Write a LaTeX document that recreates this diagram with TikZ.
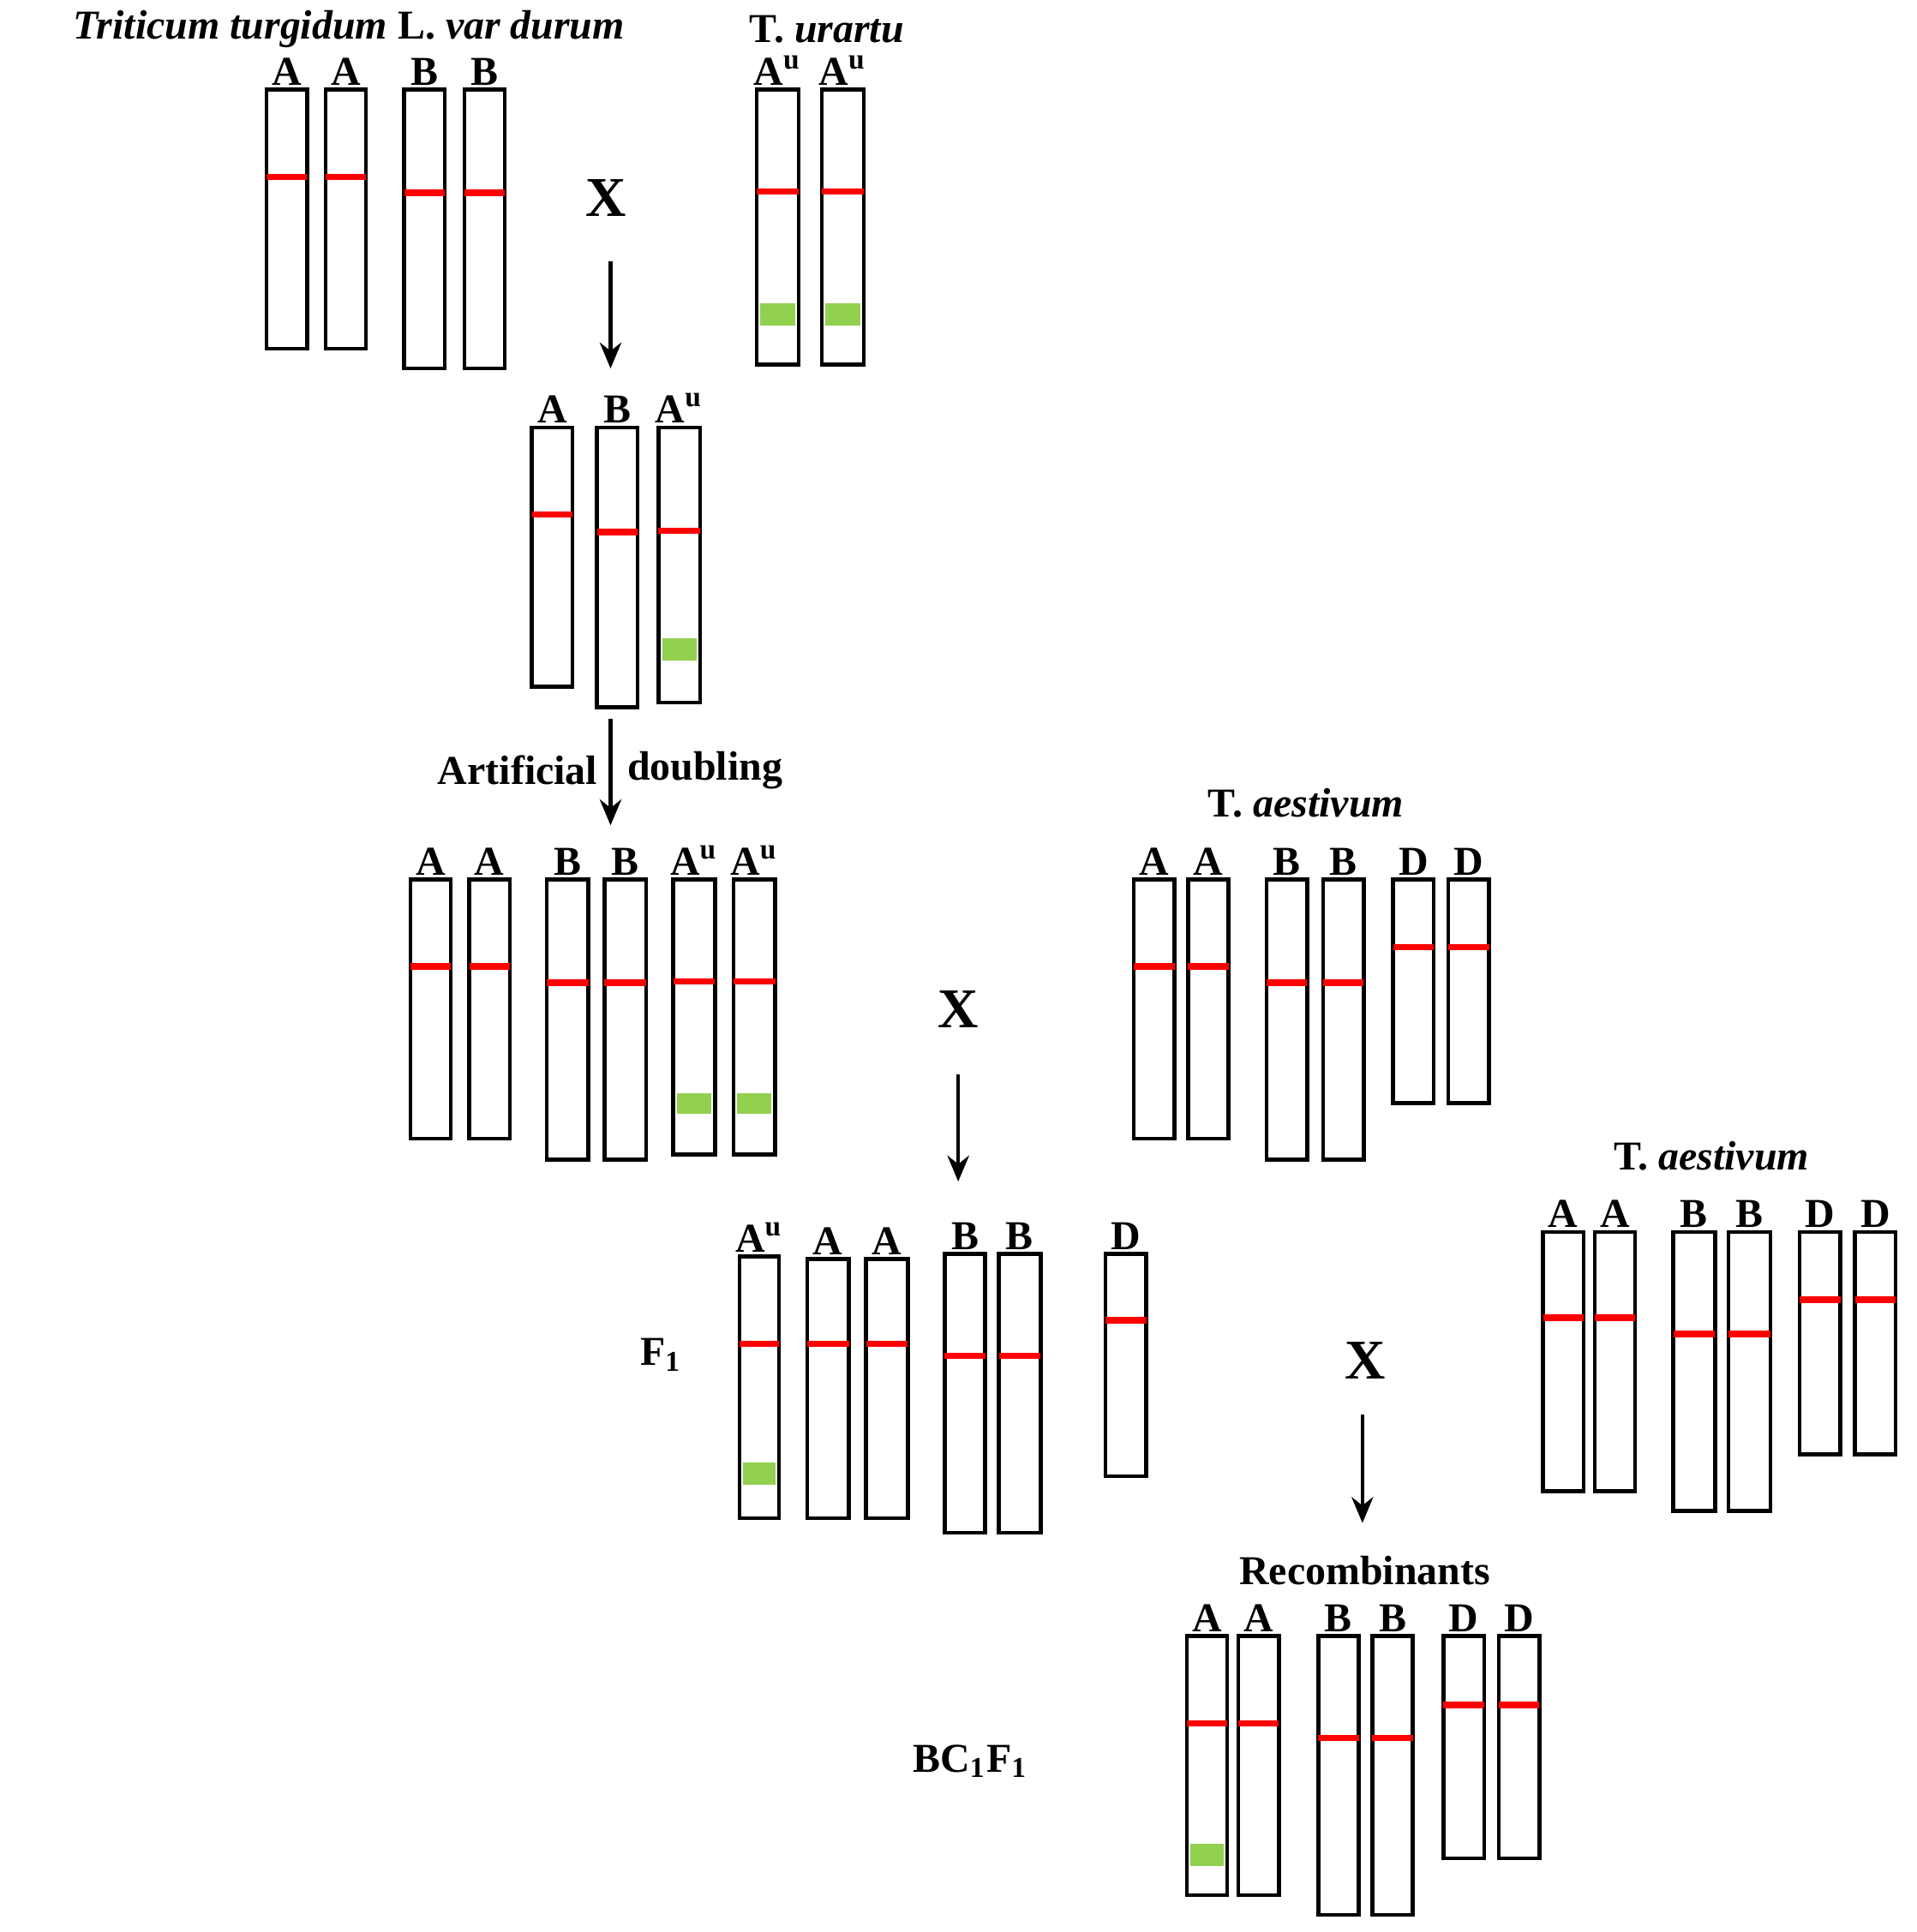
\documentclass[tikz,border=0pt]{standalone}
\usepackage{fontspec}
\setmainfont{Liberation Serif}
\usetikzlibrary{arrows.meta}
\definecolor{gband}{RGB}{146,208,80}
\tikzset{chrl/.style={draw=black,line width=0.9pt,fill=white},
 rband/.style={draw=red,line width=1.5pt},
 lbl/.style={font=\bfseries\fontsize{9.5}{10}\selectfont,inner sep=0.5pt,anchor=south},
 ttl/.style={font=\bfseries\fontsize{9.5}{10}\selectfont,inner sep=0pt},
 cross/.style={font=\bfseries\fontsize{13}{14}\selectfont,inner sep=0pt},
 arr/.style={line width=0.9pt,-{Stealth[length=6pt,width=5pt]}}}
\newcommand\chrom[7]{%
 \draw[chrl] (#2,#4) rectangle (#3,#5);
 \draw[rband] (#2,#6) -- (#3,#6);
 \node[lbl] (#1) at ({(#2+#3)/2},#4-1) {#7};}
\newcommand\grn[4]{\fill[gband] (#1+3,#3) rectangle (#2-3,#4);}
\newcommand\Au{A\textsuperscript{u}}
\begin{document}
\begin{tikzpicture}[x=0.01cm,y=-0.01cm]
\useasboundingbox (0,0) rectangle (1560,1573);
% titles
\node[ttl] (t1) at (284,24) {\textit{Triticum turgidum} L. \textit{var durum}};
\node[ttl] (t2) at (673,24) {T. \textit{urartu}};
% group 1
\chrom{g1a}{217}{250}{73}{284}{144}{A}
\chrom{g1b}{265}{298}{73}{284}{144}{A}
\chrom{g1c}{329}{362}{73}{300}{157}{B}
\chrom{g1d}{378}{411}{73}{300}{157}{B}
\grn{616}{650}{247}{265}\grn{669}{703}{247}{265}
\chrom{u1}{616}{650}{73}{297}{156}{\Au}
\chrom{u2}{669}{703}{73}{297}{156}{\Au}
\grn{616}{650}{247}{265}\grn{669}{703}{247}{265}
\node[cross] (x1) at (493,161) {X};
\coordinate (a1s) at (497,213); \coordinate (a1e) at (497,300);
\draw[arr] (a1s) -- (a1e);
% group 2
\chrom{g2a}{433}{466}{348}{559}{419}{A}
\chrom{g2b}{486}{519}{348}{576}{433}{B}
\chrom{g2c}{536}{570}{348}{572}{432}{\Au}
\grn{536}{570}{520}{538}
\coordinate (a2s) at (497,585); \coordinate (a2e) at (497,672);
\draw[arr] (a2s) -- (a2e);
\node[ttl,anchor=east] (ad1) at (487,627) {Artificial};
\node[ttl,anchor=west] (ad2) at (510,627) {doubling};
% group 3
\chrom{g3a}{334}{367}{716}{927}{787}{A}
\chrom{g3b}{382}{415}{716}{927}{787}{A}
\chrom{g3c}{445}{479}{716}{944}{800}{B}
\chrom{g3d}{492}{526}{716}{944}{800}{B}
\chrom{g3e}{548}{582}{716}{940}{799}{\Au}
\chrom{g3f}{597}{631}{716}{940}{799}{\Au}
\grn{548}{582}{890}{907}\grn{597}{631}{890}{907}
% aestivum 1
\node[ttl] (t3) at (1063,654) {T. \textit{aestivum}};
\chrom{e1a}{923}{956}{716}{927}{787}{A}
\chrom{e1b}{967}{1000}{716}{927}{787}{A}
\chrom{e1c}{1031}{1064}{716}{944}{800}{B}
\chrom{e1d}{1077}{1110}{716}{944}{800}{B}
\chrom{e1e}{1134}{1167}{716}{898}{771}{D}
\chrom{e1f}{1179}{1212}{716}{898}{771}{D}
\node[cross] (x2) at (780,822) {X};
\coordinate (a3s) at (780,875); \coordinate (a3e) at (780,962);
\draw[arr] (a3s) -- (a3e);
% F1
\node[ttl] (f1) at (538,1103) {F\textsubscript{1}};
\chrom{f1a}{602}{634}{1023}{1236}{1094}{\Au}
\grn{602}{634}{1191}{1209}
\chrom{f1b}{657}{691}{1025}{1236}{1094}{A}
\chrom{f1c}{705}{739}{1025}{1236}{1094}{A}
\chrom{f1d}{769}{802}{1021}{1248}{1104}{B}
\chrom{f1e}{813}{847}{1021}{1248}{1104}{B}
\chrom{f1f}{900}{933}{1021}{1202}{1075}{D}
% aestivum 2
\node[ttl] (t4) at (1393,941) {T. \textit{aestivum}};
\chrom{e2a}{1256}{1289}{1003}{1214}{1073}{A}
\chrom{e2b}{1298}{1331}{1003}{1214}{1073}{A}
\chrom{e2c}{1362}{1396}{1003}{1230}{1086}{B}
\chrom{e2d}{1407}{1441}{1003}{1230}{1086}{B}
\chrom{e2e}{1465}{1498}{1003}{1184}{1058}{D}
\chrom{e2f}{1510}{1543}{1003}{1184}{1058}{D}
\node[cross] (x3) at (1111,1108) {X};
\coordinate (a4s) at (1109,1152); \coordinate (a4e) at (1109,1240);
\draw[arr] (a4s) -- (a4e);
% recombinants
\node[ttl] (t5) at (1111,1279) {Recombinants};
\node[ttl] (bc) at (790,1434) {BC\textsubscript{1}F\textsubscript{1}};
\chrom{r1}{966}{999}{1332}{1543}{1403}{A}
\grn{966}{999}{1501}{1519}
\chrom{r2}{1008}{1041}{1332}{1543}{1403}{A}
\chrom{r3}{1073}{1106}{1332}{1559}{1415}{B}
\chrom{r4}{1117}{1150}{1332}{1559}{1415}{B}
\chrom{r5}{1175}{1208}{1332}{1513}{1388}{D}
\chrom{r6}{1220}{1253}{1332}{1513}{1388}{D}
\end{tikzpicture}
\end{document}
